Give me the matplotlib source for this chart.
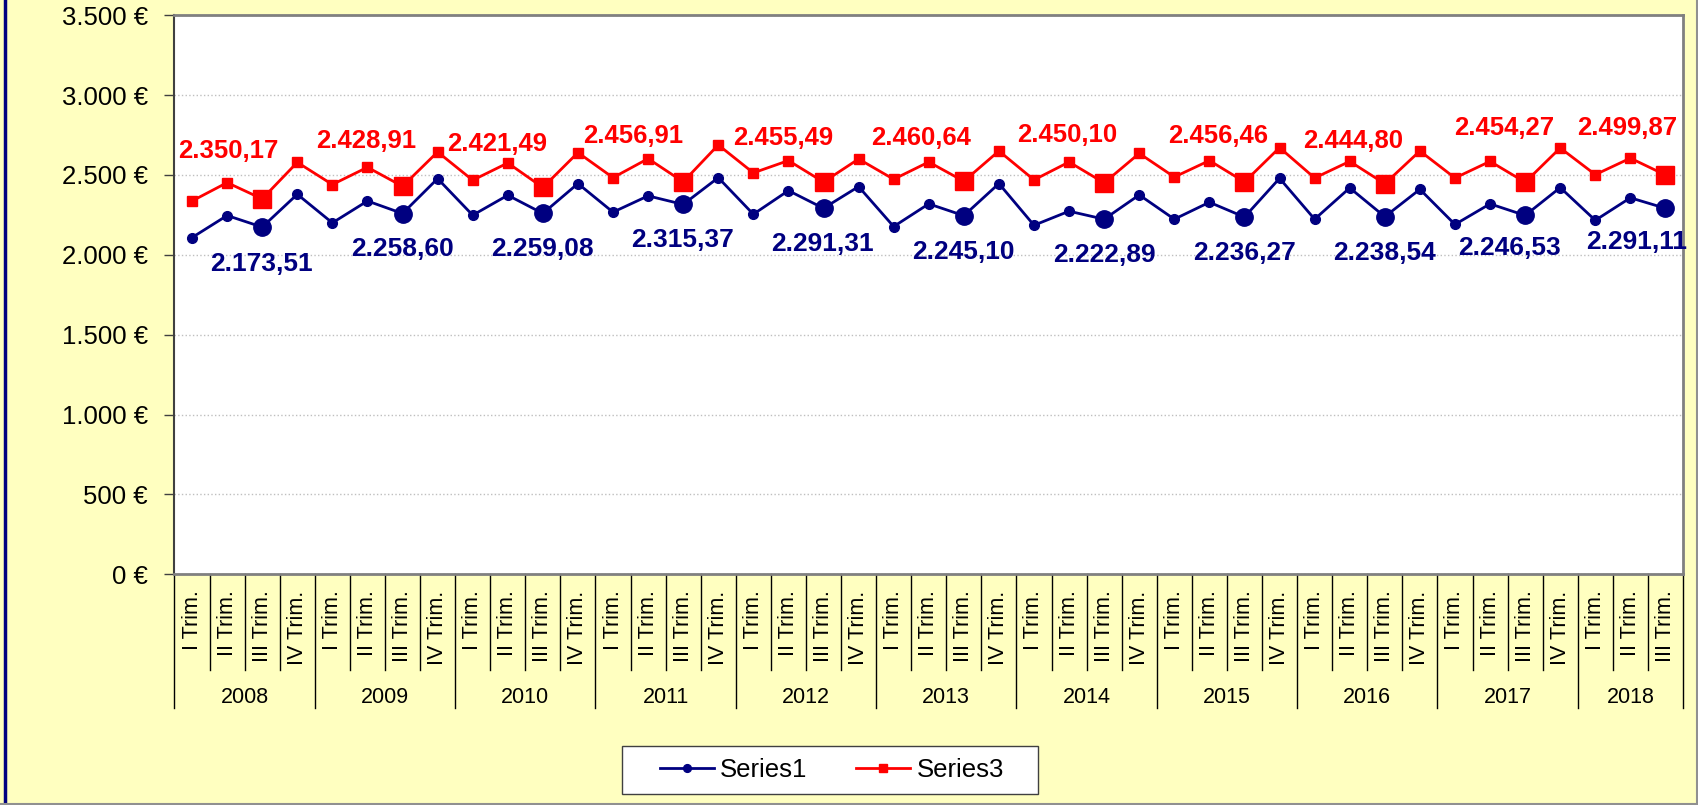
import numpy as np
import matplotlib
matplotlib.use("Agg")
import matplotlib.pyplot as plt
import matplotlib.transforms as mtransforms
from matplotlib.lines import Line2D
from matplotlib.patches import Rectangle

plt.rcParams['font.family'] = ['Liberation Sans', 'DejaVu Sans']

# Datos: trimestres 2008 - 2018 (III Trim.)
anios = ['2008', '2009', '2010', '2011', '2012', '2013', '2014', '2015', '2016', '2017', '2018']
trimestres = ['I Trim.', 'II Trim.', 'III Trim.', 'IV Trim.']

series1 = [
    2108, 2246, 2173.51, 2379,
    2200, 2337, 2258.60, 2477,
    2248, 2373, 2259.08, 2446,
    2267, 2369, 2315.37, 2483,
    2254, 2402, 2291.31, 2427,
    2177, 2319, 2245.10, 2446,
    2185, 2273, 2222.89, 2375,
    2223, 2329, 2236.27, 2479,
    2223, 2419, 2238.54, 2410,
    2190, 2319, 2246.53, 2421,
    2216, 2357, 2291.11,
]

series3 = [
    2337, 2452, 2350.17, 2579,
    2440, 2548, 2428.91, 2644,
    2467, 2575, 2421.49, 2640,
    2483, 2602, 2456.91, 2688,
    2513, 2590, 2455.49, 2600,
    2473, 2581, 2460.64, 2650,
    2469, 2581, 2450.10, 2635,
    2487, 2590, 2456.46, 2671,
    2481, 2585, 2444.80, 2650,
    2481, 2585, 2454.27, 2669,
    2502, 2605, 2499.87,
]

# desplazamiento (px) de las etiquetas respecto al punto del III Trim.
desp_s3 = [(-34, 48), (-36, 45), (-46, 43), (-50, 46), (-40, 44), (-43, 43),
           (-37, 48), (-26, 46), (-32, 43), (-21, 54), (-38, 47)]
desp_s1 = [(-1, -37), (0, -35), (0, -36), (-1, -36), (-1, -36), (0, -36),
           (0, -36), (0, -36), (0, -36), (-16, -33), (-29, -34)]

AZUL = '#000080'
ROJO = '#FF0000'
FONDO = '#FFFFC0'

W, H = 1699, 805
s1 = np.array(series1)
s3 = np.array(series3)
n = len(s1)
x = np.arange(n)
etiquetas_x = [trimestres[i % 4] for i in range(n)]

fig = plt.figure(figsize=(W / 100, H / 100), dpi=100, facecolor=FONDO)
ax_l, ax_r, ax_t, ax_b = 174.5, 1683, 15.2, 574.3
ax = fig.add_axes([ax_l / W, 1 - ax_b / H, (ax_r - ax_l) / W, (ax_b - ax_t) / H])
ax.set_facecolor('white')

l1, = ax.plot(x, s1, color=AZUL, lw=2, marker='o', ms=7, label='Series1', zorder=3)
l3, = ax.plot(x, s3, color=ROJO, lw=2, marker='s', ms=6.5, label='Series3', zorder=3)

# puntos destacados (III Trim.) con etiqueta
q3 = np.array([i for i in range(n) if i % 4 == 2])
ax.plot(x[q3], s1[q3], 'o', color=AZUL, ms=12.5, zorder=4)
ax.plot(x[q3], s3[q3], 's', color=ROJO, ms=13, zorder=4)


def fmt_es(v, dec=2):
    s = f"{v:,.{dec}f}"
    return s.replace(',', 'X').replace('.', ',').replace('X', '.')


for k, i in enumerate(q3):
    ax.annotate(fmt_es(s3[i]), xy=(i, s3[i]), xytext=desp_s3[k], textcoords='offset pixels',
                ha='center', va='center', color=ROJO, fontsize=18.5, fontweight='bold',
                annotation_clip=False, zorder=5)
    ax.annotate(fmt_es(s1[i]), xy=(i, s1[i]), xytext=desp_s1[k], textcoords='offset pixels',
                ha='center', va='center', color=AZUL, fontsize=19, fontweight='bold',
                annotation_clip=False, zorder=5)

ax.set_xlim(-0.5, n - 0.5)
ax.set_ylim(0, 3500)
ax.set_yticks(range(0, 3501, 500))
ax.set_yticklabels([fmt_es(v, 0) + ' €' for v in range(0, 3501, 500)])
ax.tick_params(axis='y', labelsize=18.5, length=7, width=1, pad=12, color='#404040')
ax.set_xticks([])
ax.yaxis.grid(True, color='#BFBFBF', linestyle=':', linewidth=1)
ax.set_axisbelow(True)

for lado in ['top', 'right', 'bottom']:
    ax.spines[lado].set_color('#808080')
    ax.spines[lado].set_linewidth(2)
ax.spines['left'].set_color('#404040')
ax.spines['left'].set_linewidth(1.5)

# eje x en dos niveles: trimestres y años
trans = mtransforms.blended_transform_factory(ax.transData, ax.transAxes)
alto_ax = ax_b - ax_t
y_trim = -(670 - ax_b) / alto_ax
y_anio = -(708 - ax_b) / alto_ax
for b in range(n + 1):
    limite = b - 0.5
    y_fin = y_anio if (b % 4 == 0 or b == n) else y_trim
    ax.plot([limite, limite], [0, y_fin], color='black', lw=1, transform=trans, clip_on=False)

for i, lab in enumerate(etiquetas_x):
    ax.annotate(lab, xy=(i, 0), xycoords=trans, xytext=(0, -16), textcoords='offset pixels',
                rotation=90, ha='center', va='top', fontsize=15.5, annotation_clip=False)

for j, anio in enumerate(anios):
    ini = 4 * j
    fin = min(4 * j + 3, n - 1)
    ax.annotate(anio, xy=((ini + fin) / 2, 0), xycoords=trans, xytext=(0, -(697 - ax_b)),
                textcoords='offset pixels', ha='center', va='center', fontsize=15.5,
                annotation_clip=False)

# leyenda
fig.add_artist(Rectangle((622 / W, 1 - 794 / H), (1038 - 622) / W, (794 - 746) / H,
                         transform=fig.transFigure, facecolor='white', edgecolor='#404040',
                         lw=1, zorder=5))
leg = fig.legend(handles=[l1, l3], loc='center', bbox_to_anchor=(832 / W, 1 - 770 / H),
                 ncol=2, frameon=False, fontsize=18.5, handlelength=2.1, handletextpad=0.25,
                 columnspacing=1.9, markerscale=0.8)
leg.set_zorder(10)

# borde del grafico
fig.add_artist(Line2D([5 / W, 5 / W], [0, 1], color=AZUL, lw=2.5, transform=fig.transFigure))
fig.add_artist(Line2D([0, 1], [1.5 / H, 1.5 / H], color='#909090', lw=1.5, transform=fig.transFigure))
fig.add_artist(Line2D([1697.5 / W, 1697.5 / W], [0, 1], color='#909090', lw=1.5, transform=fig.transFigure))

fig.savefig('out.png', dpi=100, facecolor=fig.get_facecolor())
